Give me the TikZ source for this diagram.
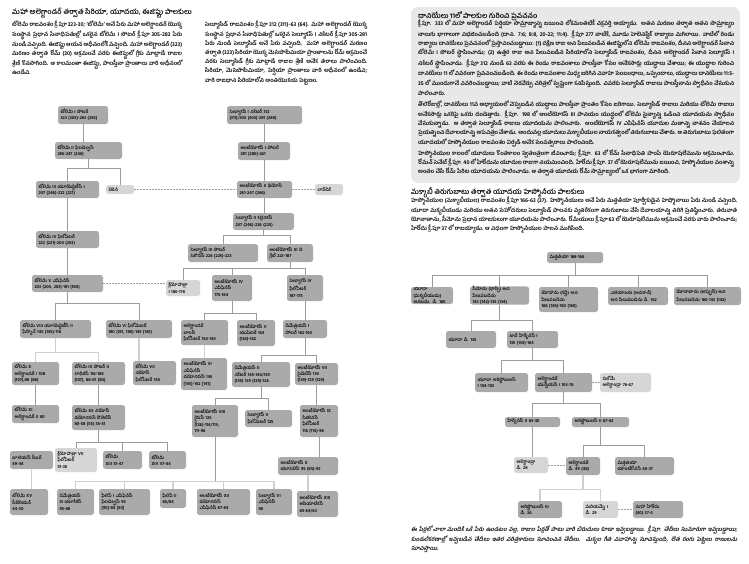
\documentclass[tikz,border=0pt]{standalone}
\usepackage{fontspec}
\setmainfont{Hind Guntur}[Script=Telugu]
\newfontfamily\teslant{Hind Guntur}[Script=Telugu,FakeSlant=0.2]
\usetikzlibrary{calc}
\definecolor{boxdark}{HTML}{AAAAAA}
\definecolor{boxlight}{HTML}{D6D6D6}
\definecolor{linedark}{HTML}{9C9C9C}
\definecolor{linelight}{HTML}{D0D0D0}
\definecolor{panelgray}{HTML}{E8E8E8}
\newcommand\boxfont{\fontsize{4.4}{6.4}\selectfont\bfseries}
\newcommand\parafont{\fontsize{5.6}{9.1}\selectfont\bfseries}
\newcommand\headfont{\fontsize{7}{8}\selectfont\bfseries}
% \bx[style]{name}{x1}{y1}{x2}{y2}{text}
\newcommand{\bx}[7][dk]{\node[#1, minimum width={(#5-#3)*1pt}, minimum height={(#6-#4)*1pt}, text width={(#5-#3)*1pt-5pt}] (#2) at ({(#3+#5)/2},{(#4+#6)/2}) {#7};}
\tikzset{
  dk/.style={fill=boxdark, rounded corners=2.5pt, inner xsep=2.5pt, inner ysep=0pt, font=\boxfont, align=left},
  lt/.style={dk, fill=boxlight},
  ln/.style={draw=linedark, line width=0.9pt},
  lnl/.style={draw=linelight, line width=1.4pt},
  wed/.style={draw=linedark, line width=0.6pt, dash pattern=on 1.6pt off 1.4pt},
  para/.style={anchor=north west, inner sep=0pt, font=\parafont, align=justify},
  head/.style={anchor=west, inner sep=0pt, font=\headfont},
}
\begin{document}
\begin{tikzpicture}[x=1pt,y=-1pt]
\useasboundingbox (0,0) rectangle (749,563);
\fill[white] (0,0) rectangle (749,563);

% ---------- left page: headings and notes ----------
\node[head] (ttl) at (12,13) {మహా అలెగ్జాండర్ తర్వాత సిరియా, యూదయ, ఈజిప్టు పాలకులు};
\node[para, text width=170pt] (ptnote) at (12,21) {టోలెమీ రాజవంశం క్రీ.పూ 323-30; ‘టోలెమీ’ అనే పేరు మహా అలెగ్జాండర్ యొక్క సంస్థాన ప్రధాన సేనాధిపతుల్లో ఒకరైన టోలెమీ I సోటర్ క్రీ.పూ 305-283 పేరు నుండి వచ్చింది. ఈజిప్టు ఆయన అధీనంలోకి వచ్చింది. మహా అలెగ్జాండర్ (323) మరణం తర్వాత రోమ్ (30) ఆక్రమించే వరకు ఈజిప్టులో గ్రీకు మాట్లాడే రాజుల శ్రేణి కొనసాగింది. ఆ కాలమంతా ఈజిప్టు, పాలస్తీనా ప్రాంతాలు వారి అధీనంలో ఉండేవి.};
\node[para, text width=162pt] (senote) at (205,21) {సెల్యూసిడ్ రాజవంశం క్రీ.పూ 312 (311)-63 (64). మహా అలెగ్జాండర్ యొక్క సంస్థాన ప్రధాన సేనాధిపతుల్లో ఒకరైన సెల్యూకస్ I నికేటర్ క్రీ.పూ 305-281 పేరు నుండి సెల్యూసిడ్ అనే పేరు వచ్చింది. మహా అలెగ్జాండర్ మరణం తర్వాత (323) సిరియా యొక్క మెసపొటేమియా ప్రాంతాలను రోమ్ ఆక్రమించే వరకు సెల్యూసిడ్ గ్రీకు మాట్లాడే రాజుల శ్రేణి అనేక తరాలు పాలించింది. సిరియా, మెసపొటేమియా, పర్షియా ప్రాంతాలు వారి అధీనంలో ఉండేవి; వారి రాజధాని సిరియాలోని అంతియొకయ పట్టణం.};

% ---------- Ptolemies ----------
\bx{pI}{58}{106}{108}{124}{టోలెమీ I సోటర్\\323 (305)-283 (282)}
\bx{pII}{55}{142}{122}{159}{టోలెమీ II ఫిలడెల్ఫస్\\285-247 (246)}
\bx{pIII}{36}{181}{99}{198}{టోలెమీ III యూయెర్జెటీస్ I\\247 (246)-222 (221)}
\bx[lt]{ber}{106}{185}{134}{194}{బెరెనీ}
\bx{pIV}{36}{231}{99}{248}{టోలెమీ IV ఫిలోపేటర్\\222 (221)-204 (203)}
\bx{pV}{32}{275}{103}{292}{టోలెమీ V ఎపిఫేనీస్\\203 (204, 203)-181 (180)}
\bx[lt]{cleoI}{166}{280}{200}{296}{క్లియోపాత్రా\\I 180-176}
\bx{pVIII}{20}{320}{91}{338}{టోలెమీ VIII యూయెర్జెటీస్ II\\ఫిస్కాన్ 145 (145)-116}
\bx{pVI}{106}{320}{172}{338}{టోలెమీ VI ఫిలోమెటర్\\180 (181, 180)-145 (145)}
\bx{pX}{12}{362}{59}{385}{టోలెమీ X\\అలెగ్జాండర్ I 108\\(107),88 (88)}
\bx{pIX}{72}{362}{125}{385}{టోలెమీ IX సోటర్ II\\లాథిరస్ 116-108\\(107), 88-81 (80)}
\bx{pVII}{133}{361}{176}{385}{టోలెమీ VII\\నియోస్\\ఫిలోపేటర్ 145}
\bx{pXI}{12}{405}{59}{423}{టోలెమీ XI\\అలెగ్జాండర్ II 80}
\bx{pXII}{72}{405}{125}{430}{టోలెమీ XII నియోస్\\డయోనిసస్ ఔలెటిస్\\80-58 (55) 55-51}
\bx{caesar}{10}{451}{53}{469}{జూలియస్ సీజర్\\49-44}
\bx[lt]{cleoVII}{55}{448}{97}{472}{క్లియోపాత్రా VII\\ఫిలోపేటర్\\51-30}
\bx{pXIII}{103}{451}{142}{469}{టోలెమీ\\XIII 51-47}
\bx{pXIV}{149}{451}{186}{469}{టోలెమీ\\XIV 47-44}
\bx{pXV}{10}{489}{48}{515}{టోలెమీ XV\\సీజేరియన్\\44-30}

% ---------- Seleucids ----------
\bx{sI}{227}{106}{302}{124}{సెల్యూకస్ I నికేటర్ 312\\(311)/305 (304)-281 (280)}
\bx{aI}{238}{142}{290}{160}{ఆంటియోకస్ I సోటర్\\281 (280)-261}
\bx{aII}{237}{181}{292}{198}{ఆంటియోకస్ II థియోస్\\261-247 (246)}
\bx[lt]{lao}{315}{184}{343}{195}{లావొదికే}
\bx{sII}{233}{213}{294}{230}{సెల్యూకస్ II కల్లినికస్\\247 (246)-226 (225)}
\bx{sIII}{188}{244}{258}{262}{సెల్యూకస్ III సోటర్\\సెరౌనస్ 226 (225)-223}
\bx{aIII}{267}{244}{313}{262}{ఆంటియోకస్ III ది\\గ్రేట్ 223-187}
\bx{aIV}{212}{275}{252}{301}{ఆంటియోకస్ IV\\ఎపిఫేనీస్\\175-164}
\bx{sIV}{287}{275}{323}{301}{సెల్యూకస్ IV\\ఫిలోపేటర్\\187-175}
\bx{balas}{181}{320}{228}{345}{అలెగ్జాండర్\\బాలస్\\ఫిలోపేటర్ 150-145}
\bx{aV}{237}{320}{275}{346}{ఆంటియోకస్ V\\యుపేటర్ 164\\(163)-162}
\bx{dI}{283}{320}{327}{338}{దెమేత్రియస్ I\\సోటర్ 162-150}
\bx{aVI}{181}{358}{227}{390}{ఆంటియోకస్ VI\\ఎపిఫేనీస్\\డయోనిసస్ 145\\{[}145{]}-142 {[}141{]}}
\bx{dII}{232}{362}{290}{387}{దెమేత్రియస్ II\\నికేటర్ 145-140/139\\(139) 129 (129)-126}
\bx{aVII}{295}{363}{338}{385}{ఆంటియోకస్ VII\\సైడెటిస్ 139\\(139)-129 (129)}
\bx{aVIII}{192}{405}{238}{437}{ఆంటియోకస్ VIII\\గ్రైపస్ 125\\(126)-114/113;\\111-96}
\bx{sV}{245}{410}{292}{427}{సెల్యూకస్ V\\ఫిలోమెటర్ 125}
\bx{aIX}{300}{405}{338}{437}{ఆంటియోకస్ IX\\సిజికెనస్\\ఫిలోపేటర్\\116 (115)-96}
\bx{aX}{278}{457}{338}{475}{ఆంటియోకస్ X\\యూసెబెస్ 95 (94)-92}
\bx{dIII}{57}{489}{94}{515}{దెమేత్రియస్\\III యూకేరస్\\95-88}
\bx{phI}{99}{489}{150}{515}{ఫిలిప్ I ఎపిఫేనీస్\\ఫిలడెల్ఫస్ 95\\{[}95{]}-84 {[}83{]}}
\bx{phII}{160}{489}{186}{508}{ఫిలిప్ II\\65/64}
\bx{aXII}{197}{489}{250}{515}{ఆంటియోకస్ XII\\డయోనిసస్\\ఎపిఫేనీస్ 87-84}
\bx{sVI}{256}{489}{292}{515}{సెల్యూకస్ VI\\ఎపిఫేనీస్\\96}
\bx{aXIII}{297}{491}{338}{517}{ఆంటియోకస్ XIII\\ఆసియాటికస్\\69-64/63}

% ---------- Ptolemaic connectors ----------
\draw[ln] (pI.south) -- (pI.south |- pII.north);
\draw[ln] (pII.south) -- ++(0,9) -| (pIII.north);
\draw[ln] (pII.south) -- ++(0,9) -| (ber.north);
\draw[ln] (pIII.south) -- (pIV.north);
\draw[ln] (pIV.south) -- (pIV.south |- pV.north);
\draw[ln] (pV.south) -- ++(0,11) -| (pVIII.north);
\draw[ln] (pV.south) -- ++(0,11) -| (pVI.north);
\draw[lnl] (pVIII.south) -- ++(0,14) -| (pX.north);
\draw[lnl] (pVIII.south) -- ++(0,14) -| (pIX.north);
\draw[lnl] (pVI.south) -- (pVI.south |- pVII.north);
\draw[ln] (pX.south) -- (pXI.north);
\draw[ln] (pIX.south) -- (pXII.north);
\draw[ln] (pXII.south) -- ++(0,12) -| (cleoVII.north);
\draw[ln] (pXII.south) -- ++(0,12) -| (pXIII.north);
\draw[ln] (pXII.south) -- ++(0,12) -| (pXIV.north);
\draw[lnl] (caesar.south) -- (caesar.south |- pXV.north);
\draw[wed] (ber.east) -- (ber.east -| aII.west);
\draw[wed] (pV.east) -- (pV.east -| cleoI.west);

% ---------- Seleucid connectors ----------
\draw[ln] (sI.south) -- (sI.south |- aI.north);
\draw[ln] (aI.south) -- (aI.south |- aII.north);
\draw[ln] (aII.south) -- (aII.south |- sII.north);
\draw[wed] (aII.east) -- (aII.east -| lao.west);
\draw[ln] (sII.south) -- ++(0,5) -| (sIII.north);
\draw[ln] (sII.south) -- ++(0,5) -| (aIII.north);
\draw[ln] (aIII.south) -- ++(0,6) -| (cleoI.north);
\draw[ln] (aIII.south) -- ++(0,6) -| (aIV.north);
\draw[ln] (aIII.south) -- ++(0,6) -| (sIV.north);
\draw[ln] (aIV.south) -- ++(0,12) -| (balas.north);
\draw[ln] (aIV.south) -- ++(0,12) -| (aV.north);
\draw[lnl] (balas.south) -- (balas.south |- aVI.north);
\draw[ln] (sIV.south) -- (sIV.south |- dI.north);
\draw[ln] (dI.south) -- ++(0,17) -| (dII.north);
\draw[ln] (dI.south) -- ++(0,17) -| (aVII.north);
\draw[ln] (dII.south) -- ++(0,11) -| (aVIII.north);
\draw[ln] (dII.south) -- ++(0,11) -| (sV.north);
\draw[ln] (aVII.south) -- (aVII.south |- aIX.north);
\draw[ln] (aIX.south) -- (aIX.south |- aX.north);
\draw[lnl] (aX.south) -- (aX.south |- aXIII.north);
\draw[ln] (aVIII.south) -- ++(0,44) coordinate (gryp);
\draw[lnl] (gryp) -| (dIII.north);
\draw[lnl] (gryp) -| (phI.north);
\draw[lnl] (gryp) -| (phII.north);
\draw[lnl] (gryp) -| (aXII.north);
\draw[lnl] (gryp) -| (sVI.north);

% ---------- right page: Daniel 11 panel ----------
\path[fill=panelgray, rounded corners=7pt] (411,7) rectangle (740,183);
\node[head] (dantl) at (418,16) {దానియేలు 11లో పాలకుల గురించి ప్రవచనం};
\node[para, text width=316pt] (dantxt) at (418,20) {క్రీ.పూ. 333 లో మహా అలెగ్జాండర్ పర్షియా సామ్రాజ్యాన్ని జయించి లోకమంతటికీ చక్రవర్తి అయ్యాడు. అతని మరణం తర్వాత అతని సామ్రాజ్యం నాలుగు భాగాలుగా విభజించబడింది (దాని. 7:6; 8:8, 20-22; 11:4). క్రీ.పూ 277 నాటికి, మూడు హెలెనిస్టిక్ రాజ్యాలు మిగిలాయి. వాటిలో రెండు రాజ్యాలు దానియేలు ప్రవచనంలో ప్రస్తావించబడ్డాయి: (1) దక్షిణ రాజు అని పిలువబడిన ఈజిప్టులోని టోలెమీ రాజవంశం, దీనిని అలెగ్జాండర్ సేనాని టోలెమీ I సోటర్ స్థాపించాడు; (2) ఉత్తర రాజు అని పిలువబడిన సిరియాలోని సెల్యూసిడ్ రాజవంశం, దీనిని అలెగ్జాండర్ సేనాని సెల్యూకస్ I నికేటర్ స్థాపించాడు. క్రీ.పూ 312 నుండి 63 వరకు ఈ రెండు రాజవంశాలు పాలస్తీనా కోసం అనేకసార్లు యుద్ధాలు చేశాయి; ఈ యుద్ధాల గురించి దానియేలు 11 లో వివరంగా ప్రవచించబడింది. ఈ రెండు రాజవంశాల మధ్య జరిగిన వివాహ సంబంధాలు, ఒప్పందాలు, యుద్ధాలు దానియేలు 11:5-35 లో ముందుగానే వివరించబడ్డాయి; వాటి నెరవేర్పు చరిత్రలో స్పష్టంగా కనిపిస్తుంది. చివరకు సెల్యూసిడ్ రాజులు పాలస్తీనాను స్వాధీనం చేసుకుని పాలించారు.\par\vspace{2pt}
తొలిరోజుల్లో, దానియేలు 11వ అధ్యాయంలో చెప్పబడిన యుద్ధాలు పాలస్తీనా ప్రాంతం కోసం జరిగాయి. సెల్యూసిడ్ రాజులు మరియు టోలెమీ రాజులు అనేకసార్లు ఒకరిపై ఒకరు దండెత్తారు. క్రీ.పూ. 198 లో ఆంటియోకస్ III పానియం యుద్ధంలో టోలెమీ సైన్యాన్ని ఓడించి యూదయను స్వాధీనం చేసుకున్నాడు. ఆ తర్వాత సెల్యూసిడ్ రాజులు యూదయను పాలించారు. ఆంటియోకస్ IV ఎపిఫేనీస్ యూదుల మతాన్ని నాశనం చేయాలని ప్రయత్నించి దేవాలయాన్ని అపవిత్రం చేశాడు. అందువల్ల యూదులు మక్కాబీయుల నాయకత్వంలో తిరుగుబాటు చేశారు. ఆ తిరుగుబాటు ఫలితంగా యూదయలో హస్మోనీయుల రాజవంశం ఏర్పడి అనేక సంవత్సరాలు పాలించింది.\par\vspace{2pt}
హస్మోనీయుల కాలంలో యూదులు కొంతకాలం స్వతంత్రంగా జీవించారు; క్రీ.పూ. 63 లో రోమ్ సేనాధిపతి పాంపే యెరూషలేమును ఆక్రమించాడు. రోమన్ సెనేట్ క్రీ.పూ. 40 లో హేరోదును యూదుల రాజుగా నియమించింది. హేరోదు క్రీ.పూ. 37 లో యెరూషలేమును జయించి, హస్మోనీయుల వంశాన్ని అంతం చేసి రోమ్ పేరిట యూదయను పాలించాడు. ఆ తర్వాత యూదయ రోమ్ సామ్రాజ్యంలో ఒక భాగంగా మారింది.};

% ---------- right page: Hasmoneans ----------
\node[head] (hastl) at (411,193) {మక్కాబీ తిరుగుబాటు తర్వాత యూదయ హస్మోనీయ పాలకులు};
\node[para, text width=326pt] (hastxt) at (411,197) {హస్మోనీయుల (మక్కాబీయుల) రాజవంశం క్రీ.పూ 166-63 (37). హస్మోనీయులు అనే పేరు మత్తతీయా పూర్వీకుడైన హష్మోనాయి పేరు నుండి వచ్చింది. యూదా మక్కబీయుడు మరియు అతని సహోదరులు సెల్యూసిడ్ పాలనకు వ్యతిరేకంగా తిరుగుబాటు చేసి దేవాలయాన్ని తిరిగి ప్రతిష్ఠించారు. తరువాత యోనాతాను, సీమోను ప్రధాన యాజకులుగా యూదయను పాలించారు. రోమీయులు క్రీ.పూ 63 లో యెరూషలేమును ఆక్రమించే వరకు వారు పాలించారు; హేరోదు క్రీ.పూ 37 లో రాజయ్యాడు. ఆ విధంగా హస్మోనీయుల పాలన ముగిసింది.};

\bx{matt}{547}{252}{603}{263}{మత్తతీయా 168-166}
\bx{judas}{411}{287}{453}{304}{యూదా (మక్కబీయుడు)\\అనబడు. డి. 160}
\bx{simon}{470}{287}{529}{304}{సీమోను (థాస్సి) అని పిలువబడెను\\143 (142)-135 (134)}
\bx{john}{539}{287}{598}{312}{యోహాను (గద్దీ) అని\\పిలువబడెను\\166 (165)-160 (160)}
\bx{eleaz}{608}{287}{668}{305}{ఎలియాజరు (అవరాన్)\\అని పిలువబడెను డి. 162}
\bx{jonat}{674}{287}{741}{305}{యోనాతాను (అప్ఫుస్) అని\\పిలువబడెను 160-143 (142)}
\bx{judah}{446}{331}{496}{348}{యూదా డి. 135}
\bx{hyrcI}{507}{331}{558}{348}{జాన్ హిర్కేనస్ I\\135 (134)-104}
\bx{aristI}{475}{373}{528}{392}{యూదా అరిస్టోబులస్\\I 104-103}
\bx{jann}{535}{373}{592}{392}{అలెగ్జాండర్\\యన్నేయస్ I 103-76}
\bx[lt]{salome}{600}{373}{651}{392}{సలోమే\\అలెగ్జాండ్రా 76-67}
\bx{hyrcII}{505}{417}{560}{427}{హిర్కేనస్ II 63-40}
\bx{aristII}{572}{417}{629}{427}{అరిస్టోబులస్ II 67-63}
\bx[lt]{alexa}{514}{457}{548}{473}{అలెగ్జాండ్రా\\డి. 28}
\bx{alexr}{566}{457}{600}{475}{అలెగ్జాండర్\\డి. 49 (48)}
\bx{antig}{615}{457}{674}{475}{మత్తతియా\\యాంటిగోనస్ 40-37}
\bx{aristIII}{518}{501}{562}{518}{అరిస్టోబులస్ III\\డి. 36}
\bx[lt]{mariam}{583}{501}{618}{518}{మరియమ్నే I\\డి. 29}
\bx{herod}{633}{501}{683}{518}{మహా హేరోదు\\(40) 37-4}

\draw[ln] (matt.south) -- ++(0,12) coordinate (mj);
\foreach \c in {judas,simon,john,eleaz,jonat} \draw[ln] (mj) -| (\c.north);
\draw[ln] (simon.south) -- ++(0,16) -| (judah.north);
\draw[ln] (simon.south) -- ++(0,16) -| (hyrcI.north);
\draw[ln] (hyrcI.south) -- ++(0,12) -| (aristI.north);
\draw[ln] (hyrcI.south) -- ++(0,12) -| (jann.north);
\draw[wed] (jann.east) -- (salome.west);
\draw[ln] (jann.south) -- ++(0,11) -| (hyrcII.north);
\draw[ln] (jann.south) -- ++(0,11) -| (aristII.north);
\draw[ln] (hyrcII.south) -- (hyrcII.south |- alexa.north);
\draw[wed] (alexa.east) -- (alexa.east -| alexr.west);
\draw[ln] (aristII.south) -- ++(0,18) -| (alexr.north);
\draw[ln] (aristII.south) -- ++(0,18) -| (antig.north);
\draw[lnl] (alexr.south) -- ++(0,14) -| (aristIII.north);
\draw[lnl] (alexr.south) -- ++(0,14) -| (mariam.north);
\draw[wed] (mariam.east) -- (herod.west);

\node[para, text width=326pt, font={\parafont\teslant}] (foot) at (411,526) {ఈ పేర్లలో చాలా మందికి ఒకే పేరు ఉండటం వల్ల, రాజుల పేర్లతో పాటు వారి బిరుదులు కూడా ఇవ్వబడ్డాయి. క్రీ.పూ. తేదీలు సుమారుగా ఇవ్వబడ్డాయి; కుండలీకరణాల్లో ఇవ్వబడిన తేదీలు ఇతర చరిత్రకారులు సూచించిన తేదీలు. చుక్కల గీత వివాహాన్ని సూచిస్తుంది, లేత రంగు పెట్టెలు రాణులను సూచిస్తాయి.};
\end{tikzpicture}
\end{document}
